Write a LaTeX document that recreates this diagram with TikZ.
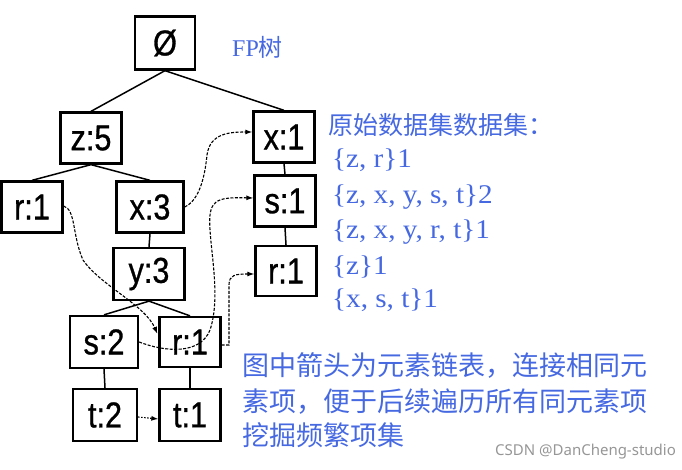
\documentclass[tikz,border=0pt]{standalone}
\usepackage{fontspec}
\setmainfont{Liberation Serif}
\newfontfamily\cjk{Noto Sans CJK SC}
\newfontfamily\nodefont[FakeStretch=0.85,FakeBold=0.8]{Liberation Sans}
\newfontfamily\datafont[FakeStretch=1.08]{Liberation Serif}
\newfontfamily\wmfont{Noto Sans}
\usetikzlibrary{arrows.meta}
\definecolor{txtblue}{RGB}{70,105,225}
\definecolor{wmgray}{RGB}{150,150,150}
\begin{document}
\begin{tikzpicture}[x=1pt,y=-1pt,
  fpbox/.style={draw, line width=2.3pt, inner sep=0pt, minimum width=61pt, minimum height=51pt,
    font=\nodefont\fontsize{36}{36}\selectfont},
  tree/.style={line width=1.5pt},
  link/.style={line width=1.1pt, dash pattern=on 3pt off 1.5pt, -{Latex[length=7pt,width=5pt]}},
  note/.style={text=txtblue, inner sep=0pt, anchor=west},
  datanote/.style={note, font=\datafont\fontsize{27}{27}\selectfont}]
\useasboundingbox (0,0) rectangle (682,470);

% tree nodes
\node[fpbox, minimum width=60pt, minimum height=53pt] (root) at (165,43) {Ø};
\node[fpbox] (z5) at (91,138) {z:5};
\node[fpbox] (x1) at (284,137) {x:1};
\node[fpbox] (r1a) at (32,207) {r:1};
\node[fpbox, minimum width=67pt] (x3) at (150,207) {x:3};
\node[fpbox] (s1) at (285,201) {s:1};
\node[fpbox, minimum height=50pt] (r1c) at (286,271) {r:1};
\node[fpbox, minimum width=71pt, minimum height=52pt] (y3) at (149,274) {y:3};
\node[fpbox, minimum width=68pt, minimum height=52pt] (s2) at (104,342) {s:2};
\node[fpbox, minimum height=50pt] (r1b) at (190,342) {r:1};
\node[fpbox, minimum width=64pt, minimum height=52pt] (t2) at (105,415) {t:2};
\node[fpbox, minimum height=52pt] (t1) at (190,415) {t:1};

% tree edges
\draw[tree] (root.south) -- (z5.north);
\draw[tree] (root.south) -- (x1.north);
\draw[tree] (z5.south) -- (r1a.north);
\draw[tree] (z5.south) -- (x3.north);
\draw[tree] (x3.south) -- (y3.north);
\draw[tree] (y3.south) -- (s2.north);
\draw[tree] (y3.south) -- (r1b.north);
\draw[tree] (x1.south) -- (s1.north);
\draw[tree] (s1.south) -- (r1c.north);
\draw[tree] (s2.south) -- (t2.north);
\draw[tree] (r1b.south) -- (t1.north);

% node links
\draw[link] (x3.east) .. controls (200,200) and (205,175) .. (207,155)
  .. controls (210,133) and (230,132) .. ([yshift=5pt]x1.west);
\draw[link] ([yshift=1pt]r1a.east) .. controls (76,210) and (72,235) .. (83,260)
  .. controls (100,285) and (145,305) .. ([xshift=-1pt,yshift=-18pt]r1b.north west);
\draw[link] (s2.east) .. controls (165,352) and (200,355) .. (210,330)
  .. controls (220,300) and (212,260) .. (210,230)
  .. controls (208,200) and (215,197) .. ([yshift=3pt]s1.west);
\draw[link] ([yshift=-3pt]r1b.east) -- (229,345) -- (229,285)
  .. controls (229,275) and (235,274) .. ([yshift=-3pt]r1c.west);
\draw[link, dash pattern=on 1.5pt off 1.5pt] ([yshift=-2pt]t2.east) -- ([yshift=-4pt]t1.west);

% texts
\node[note, font=\fontsize{24}{24}\selectfont] (fp) at (232,47) {FP{\cjk 树}};
\node[note, font=\cjk\fontsize{25}{25}\selectfont] (title) at (328,125) {原始数据集数据集：};
\node[datanote] (d1) at (332,160) {\{z, r\}1};
\node[datanote] (d2) at (332,197) {\{z, x, y, s, t\}2};
\node[datanote] (d3) at (332,232) {\{z, x, y, r, t\}1};
\node[datanote] (d4) at (332,267) {\{z\}1};
\node[datanote] (d5) at (332,300) {\{x, s, t\}1};
\node[note, font=\cjk\fontsize{27}{27}\selectfont] (n1) at (242,365) {图中箭头为元素链表，连接相同元};
\node[note, font=\cjk\fontsize{27}{27}\selectfont] (n2) at (242,402) {素项，便于后续遍历所有同元素项};
\node[note, font=\cjk\fontsize{27}{27}\selectfont] (n3) at (242,435) {挖掘频繁项集};
\node[anchor=west, inner sep=0pt, text=wmgray, font=\wmfont\fontsize{15}{15}\selectfont] (wm) at (495,452) {CSDN @DanCheng-studio};
\end{tikzpicture}
\end{document}
